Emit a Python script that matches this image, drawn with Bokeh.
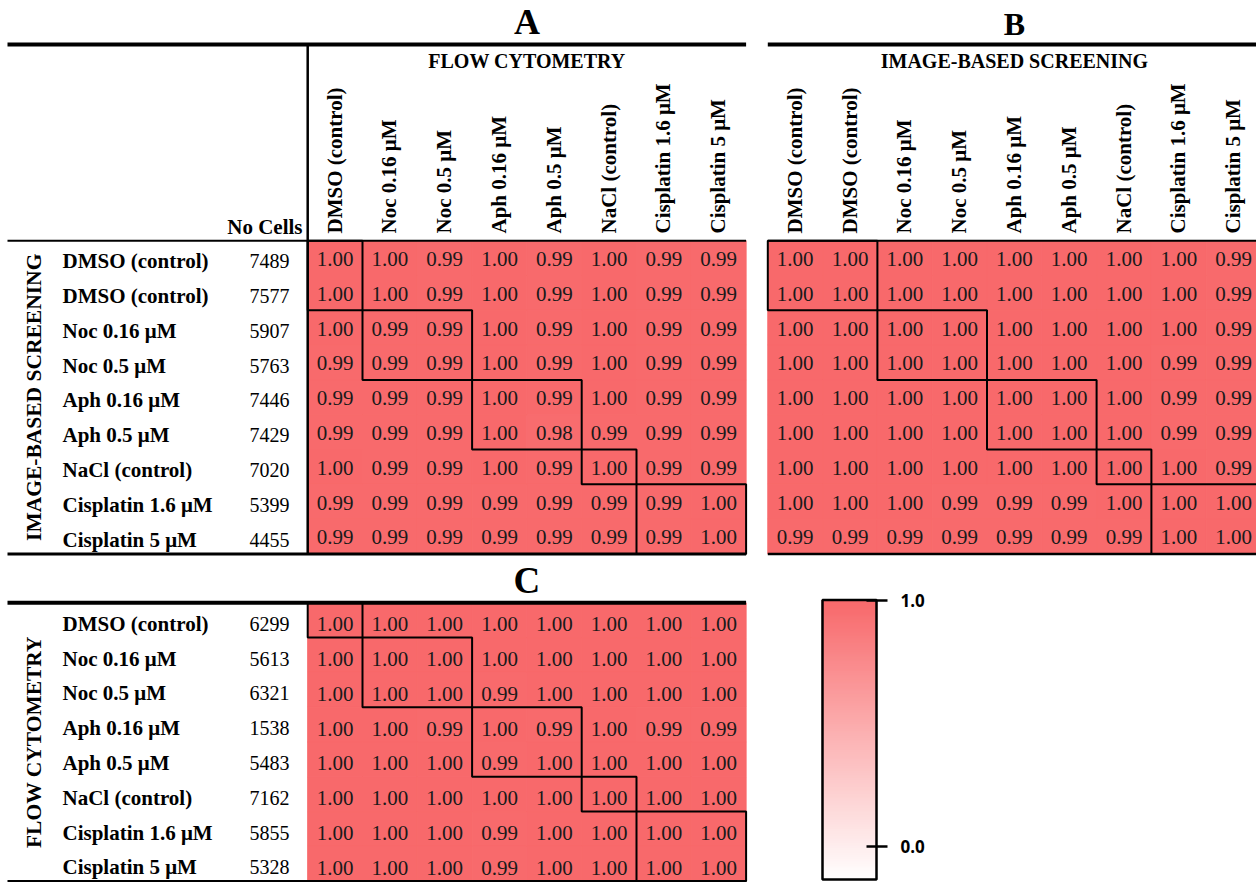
import numpy as np
from bokeh.plotting import figure
from bokeh.models import ColumnDataSource, LinearColorMapper, Range1d
from bokeh.core.properties import value
from bokeh.embed import file_html
from bokeh.resources import INLINE

# ---------------- data ----------------
img_labels = ["DMSO (control)", "DMSO (control)", "Noc 0.16 μM", "Noc 0.5 μM",
              "Aph 0.16 μM", "Aph 0.5 μM", "NaCl (control)", "Cisplatin 1.6 μM",
              "Cisplatin 5 μM"]
img_counts = [7489, 7577, 5907, 5763, 7446, 7429, 7020, 5399, 4455]
img_groups = [0, 0, 1, 1, 2, 2, 3, 4, 4]

flow_labels = ["DMSO (control)", "Noc 0.16 μM", "Noc 0.5 μM", "Aph 0.16 μM",
               "Aph 0.5 μM", "NaCl (control)", "Cisplatin 1.6 μM", "Cisplatin 5 μM"]
flow_counts = [6299, 5613, 6321, 1538, 5483, 7162, 5855, 5328]
flow_groups = [0, 1, 1, 2, 2, 3, 4, 4]

# A: image-based rows x flow cytometry columns
a_values = [
    [1.00, 1.00, 0.99, 1.00, 0.99, 1.00, 0.99, 0.99],
    [1.00, 1.00, 0.99, 1.00, 0.99, 1.00, 0.99, 0.99],
    [1.00, 0.99, 0.99, 1.00, 0.99, 1.00, 0.99, 0.99],
    [0.99, 0.99, 0.99, 1.00, 0.99, 1.00, 0.99, 0.99],
    [0.99, 0.99, 0.99, 1.00, 0.99, 1.00, 0.99, 0.99],
    [0.99, 0.99, 0.99, 1.00, 0.98, 0.99, 0.99, 0.99],
    [1.00, 0.99, 0.99, 1.00, 0.99, 1.00, 0.99, 0.99],
    [0.99, 0.99, 0.99, 0.99, 0.99, 0.99, 0.99, 1.00],
    [0.99, 0.99, 0.99, 0.99, 0.99, 0.99, 0.99, 1.00],
]
# B: image-based rows x image-based columns
b_values = [
    [1.00, 1.00, 1.00, 1.00, 1.00, 1.00, 1.00, 1.00, 0.99],
    [1.00, 1.00, 1.00, 1.00, 1.00, 1.00, 1.00, 1.00, 0.99],
    [1.00, 1.00, 1.00, 1.00, 1.00, 1.00, 1.00, 1.00, 0.99],
    [1.00, 1.00, 1.00, 1.00, 1.00, 1.00, 1.00, 0.99, 0.99],
    [1.00, 1.00, 1.00, 1.00, 1.00, 1.00, 1.00, 0.99, 0.99],
    [1.00, 1.00, 1.00, 1.00, 1.00, 1.00, 1.00, 0.99, 0.99],
    [1.00, 1.00, 1.00, 1.00, 1.00, 1.00, 1.00, 1.00, 0.99],
    [1.00, 1.00, 1.00, 0.99, 0.99, 0.99, 1.00, 1.00, 1.00],
    [0.99, 0.99, 0.99, 0.99, 0.99, 0.99, 0.99, 1.00, 1.00],
]
# C: flow cytometry rows x flow cytometry columns
c_values = [
    [1.00, 1.00, 1.00, 1.00, 1.00, 1.00, 1.00, 1.00],
    [1.00, 1.00, 1.00, 1.00, 1.00, 1.00, 1.00, 1.00],
    [1.00, 1.00, 1.00, 0.99, 1.00, 1.00, 1.00, 1.00],
    [1.00, 1.00, 0.99, 1.00, 0.99, 1.00, 0.99, 0.99],
    [1.00, 1.00, 1.00, 0.99, 1.00, 1.00, 1.00, 1.00],
    [1.00, 1.00, 1.00, 1.00, 1.00, 1.00, 1.00, 1.00],
    [1.00, 1.00, 1.00, 0.99, 1.00, 1.00, 1.00, 1.00],
    [1.00, 1.00, 1.00, 0.99, 1.00, 1.00, 1.00, 1.00],
]
cbar_ticks = [0.0, 1.0]
cbar_tick_labels = ["0.0", "1.0"]

# ---------------- layout (reference pixel space) ----------------
W, H = 1256, 882
X_MIN, X_MAX = 0, 1256
Y_MIN, Y_MAX = 0, 882
CW, CH = 54.8, 34.8
LEFT = 7
AX0, AY0 = 307.2, 240.2
BX0 = 767.3
CY0 = 602.3
TOP_Y = 44
LABEL_X = 62
COUNT_X = 289
GROUP_X = 33
SERIF = "Liberation Serif"
SANS = "Open Sans"
RED = (248, 105, 107)

def mix(t):
    return "#%02x%02x%02x" % tuple(round(255 + (c - 255) * t) for c in RED)

palette = [mix(i / 255) for i in range(256)]
mapper = LinearColorMapper(palette=palette, low=0, high=1)

p = figure(width=W, height=H, x_range=Range1d(X_MIN, X_MAX), y_range=Range1d(Y_MAX, Y_MIN),
           output_backend="svg", toolbar_location=None, min_border=0,
           x_axis_location=None, y_axis_location=None)
p.grid.visible = False
p.outline_line_color = None
p.background_fill_color = "white"


def heat(vals, x0, y0, row_groups, col_groups, dy):
    xs, ys, vs, ts = [], [], [], []
    for i, row in enumerate(vals):
        for j, v in enumerate(row):
            xs.append(x0 + (j + 0.5) * CW)
            ys.append(y0 + (i + 0.5) * CH)
            vs.append(v)
            ts.append(f"{v:.2f}")
    src = ColumnDataSource(dict(x=xs, y=ys, ty=[y + dy for y in ys], v=vs, t=ts))
    p.rect("x", "y", width=CW, height=CH, source=src,
           fill_color={"field": "v", "transform": mapper},
           line_color={"field": "v", "transform": mapper}, line_width=1)
    p.text("x", "ty", text="t", source=src, text_align="center", text_baseline="middle",
           text_font=value(SERIF), text_font_size="21px", text_color="#1a1a1a")
    bx, by, bw, bh = [], [], [], []
    for g in sorted(set(row_groups)):
        ri = [i for i, gg in enumerate(row_groups) if gg == g]
        ci = [j for j, gg in enumerate(col_groups) if gg == g]
        bx.append(x0 + (min(ci) + max(ci) + 1) / 2 * CW)
        by.append(y0 + (min(ri) + max(ri) + 1) / 2 * CH)
        bw.append((max(ci) - min(ci) + 1) * CW)
        bh.append((max(ri) - min(ri) + 1) * CH)
    p.rect(bx, by, width=bw, height=bh, fill_color=None, line_color="black", line_width=2)


def row_labels(labels, counts, y0, dy):
    ys = [y0 + (i + 0.5) * CH + dy for i in range(len(labels))]
    p.text([LABEL_X] * len(labels), ys, text=labels, text_align="left", text_baseline="middle",
           text_font=value(SERIF), text_font_style="bold", text_font_size="21px", text_color="black")
    p.text([COUNT_X] * len(labels), ys, text=[str(c) for c in counts], text_align="right",
           text_baseline="middle", text_font=value(SERIF), text_font_size="20px", text_color="black")


def col_labels(labels, x0):
    xs = [x0 + (j + 0.5) * CW - 0.5 for j in range(len(labels))]
    p.text(xs, [233] * len(labels), text=labels, angle=np.pi / 2, text_align="left",
           text_baseline="middle", text_font=value(SERIF), text_font_style="bold",
           text_font_size="21px", text_color="black")


# heatmaps
heat(a_values, AX0, AY0, img_groups, flow_groups, 0.8)
heat(b_values, BX0, AY0, img_groups, img_groups, 0.8)
heat(c_values, AX0, CY0, flow_groups, flow_groups, 4.0)

# labels
row_labels(img_labels, img_counts, AY0, 3.0)
row_labels(flow_labels, flow_counts, CY0, 3.5)
col_labels(flow_labels, AX0)
col_labels(img_labels, BX0)

A_R = AX0 + len(flow_labels) * CW
B_R = BX0 + len(img_labels) * CW
A_B = AY0 + len(img_labels) * CH
C_B = CY0 + len(flow_labels) * CH

p.text([(AX0 + A_R) / 2, (BX0 + B_R) / 2], [60, 60],
       text=["FLOW CYTOMETRY", "IMAGE-BASED SCREENING"],
       text_align="center", text_baseline="middle", text_font=value(SERIF),
       text_font_style="bold", text_font_size="20px", text_color="black")
p.text([COUNT_X + 13], [226], text=["No Cells"], text_align="right", text_baseline="middle",
       text_font=value(SERIF), text_font_style="bold", text_font_size="21px", text_color="black")
p.text([GROUP_X, GROUP_X], [(AY0 + A_B) / 2, (CY0 + C_B) / 2],
       text=["IMAGE-BASED SCREENING", "FLOW CYTOMETRY"], angle=np.pi / 2,
       text_align="center", text_baseline="middle", text_font=value(SERIF),
       text_font_style="bold", text_font_size="21.5px", text_color="black")

# panel titles
for lab, x, y, size in [("A", (AX0 + A_R) / 2, 21, "36px"), ("B", (BX0 + B_R) / 2, 23, "32px"),
                        ("C", (AX0 + A_R) / 2, 580, "37px")]:
    p.text([x], [y], text=[lab], text_align="center", text_baseline="middle",
           text_font=value(SERIF), text_font_style="bold", text_font_size=size, text_color="black")

# rules
seg = dict(x0=[], y0=[], x1=[], y1=[], lw=[])
def rule(x0, y0, x1, y1, lw):
    seg["x0"].append(x0); seg["y0"].append(y0); seg["x1"].append(x1); seg["y1"].append(y1); seg["lw"].append(lw)

rule(LEFT, TOP_Y, A_R, TOP_Y, 4)
rule(BX0, TOP_Y, B_R, TOP_Y, 4)
rule(LEFT, AY0, A_R, AY0, 2)
rule(BX0, AY0, B_R, AY0, 2)
rule(AX0, TOP_Y, AX0, A_B, 2.5)
rule(LEFT, A_B, A_R, A_B, 3)
rule(BX0, A_B, B_R, A_B, 2.5)
rule(LEFT, CY0, A_R, CY0, 4)
rule(LEFT, C_B, A_R, C_B, 2.5)
p.segment("x0", "y0", "x1", "y1", line_width="lw", line_color="black",
          source=ColumnDataSource(seg))

# color scale legend
CB_X0, CB_X1 = 822, 876
CB_TOP, CB_BOT = 599.5, 879
CB_Y1, CB_Y0 = 600, 846          # positions of value 1.0 and 0.0
n = 120
fr = [(k + 0.5) / n for k in range(n)]
sh = (CB_BOT - CB_TOP) / n
cb_src = ColumnDataSource(dict(x=[(CB_X0 + CB_X1) / 2] * n,
                               y=[CB_BOT - f * (CB_BOT - CB_TOP) for f in fr], v=fr))
p.rect("x", "y", width=CB_X1 - CB_X0, height=sh, source=cb_src,
       fill_color={"field": "v", "transform": mapper},
       line_color={"field": "v", "transform": mapper}, line_width=1.5)
p.rect([(CB_X0 + CB_X1) / 2], [(CB_TOP + CB_BOT) / 2], width=CB_X1 - CB_X0,
       height=CB_BOT - CB_TOP, fill_color=None, line_color="black", line_width=2.5)
tick_y = [CB_Y0 + (CB_Y1 - CB_Y0) * t for t in cbar_ticks]
p.segment([CB_X1 - 10] * 2, tick_y, [CB_X1 + 11] * 2, tick_y, line_color="black", line_width=2.5)
p.text([CB_X1 + 24] * 2, tick_y, text=cbar_tick_labels, text_align="left",
       text_baseline="middle", text_font=value(SANS), text_font_style="bold",
       text_font_size="17px", text_color="black")

open("out.html", "w").write(file_html(p, INLINE))
